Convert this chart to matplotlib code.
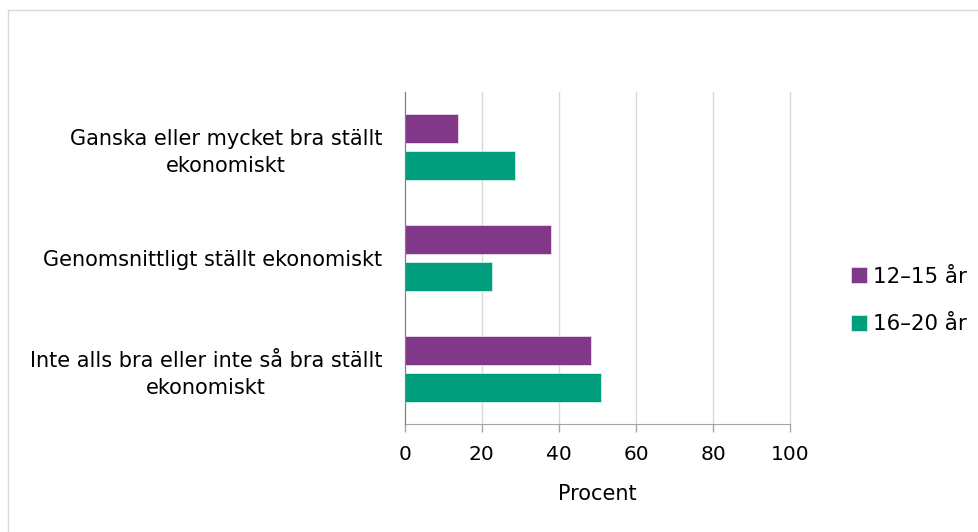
import matplotlib
matplotlib.use("Agg")
import matplotlib.pyplot as plt
import numpy as np
from matplotlib.patches import Rectangle

categories = ["Ganska eller mycket bra ställt\nekonomiskt",
              "Genomsnittligt ställt ekonomiskt",
              "Inte alls bra eller inte så bra ställt\nekonomiskt"]
series_names = ["12–15 år", "16–20 år"]
values_12_15 = [13.7, 38.0, 48.3]
values_16_20 = [28.7, 22.7, 51.0]
x_ticks = [0, 20, 40, 60, 80, 100]

purple = "#823889"
green = "#009E7D"

plt.rcParams['font.family'] = ['DejaVu Sans']

fig = plt.figure(figsize=(9.79, 5.32), dpi=100)
# light outer frame like the original screenshot
fig.patches.append(Rectangle((8 / 979, -0.1), 1.2, 1 - 10 / 532 + 0.1,
                             transform=fig.transFigure, fill=False,
                             edgecolor="#D9D9D9", linewidth=1))

ax = fig.add_axes([0.4134, 0.2024, 0.3939, 0.6252])

y = np.arange(len(categories))
h = 0.26
off = 0.165
ax.barh(y - off, values_12_15, height=h, color=purple, edgecolor="#E8DDEA",
        linewidth=0.6, label=series_names[0], zorder=3)
ax.barh(y + off, values_16_20, height=h, color=green, edgecolor="#D5EFE9",
        linewidth=0.6, label=series_names[1], zorder=3)

ax.set_xlim(0, 100)
ax.set_ylim(2.5, -0.5)
ax.set_xticks(x_ticks)
ax.set_yticks(y)
ax.set_yticklabels(categories, fontsize=15)
for lbl in ax.get_yticklabels():
    lbl.set_multialignment("center")
    lbl.set_linespacing(1.45)
ax.tick_params(axis="y", length=0, pad=16)
ax.tick_params(axis="x", length=6, width=1, color="#A6A6A6", pad=9, labelsize=14.5)
ax.xaxis.grid(True, color="#D9D9D9", linewidth=1, zorder=0)
for gl in ax.get_xgridlines():
    gl.set_clip_on(False)
ax.set_axisbelow(True)
for s in ["top", "right"]:
    ax.spines[s].set_visible(False)
ax.spines["left"].set_color("#7F7F7F")
ax.spines["left"].set_zorder(4)
ax.spines["bottom"].set_color("#A6A6A6")
ax.set_xlabel("Procent", fontsize=15, labelpad=14)

fig.legend(loc="center left", bbox_to_anchor=(0.869, 0.435), frameon=False,
           fontsize=15.4, handlelength=0.78, handleheight=0.78, handletextpad=0.25,
           labelspacing=1.3, borderaxespad=0, borderpad=0)

fig.savefig("out.png", dpi=100)
